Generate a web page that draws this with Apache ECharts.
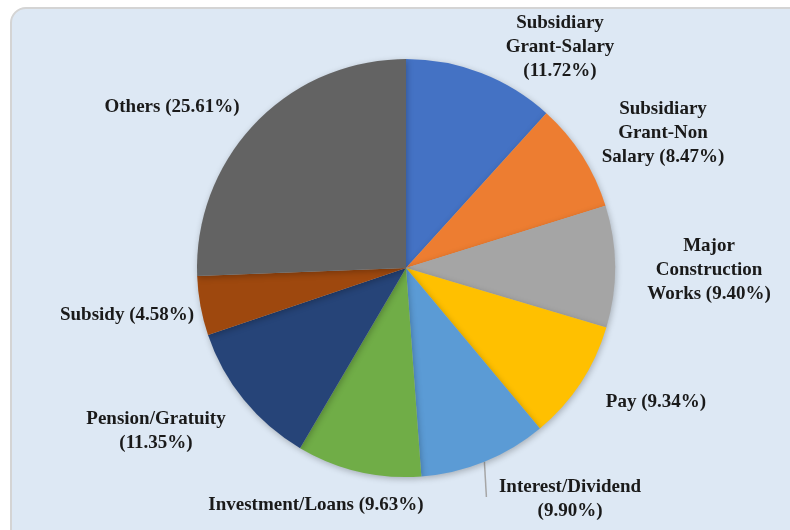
<!DOCTYPE html>
<html>
<head>
<meta charset="utf-8">
<script src="https://cdn.jsdelivr.net/npm/echarts@6/dist/echarts.min.js"></script>
<style>
  html, body { margin: 0; padding: 0; background: #ffffff; width: 790px; height: 530px; overflow: hidden; }
  #panel { position: absolute; left: 10px; top: 7px; width: 800px; height: 540px; background: #dde8f4; border: 2px solid #d4d4d4; border-radius: 16px; box-sizing: border-box; }
  #chart { position: absolute; left: 0; top: 0; width: 790px; height: 530px; }
</style>
</head>
<body>
<div id="panel"></div>
<div id="chart"></div>
<script>
const categories = [
  'Subsidiary\nGrant-Salary',
  'Subsidiary\nGrant-Non\nSalary',
  'Major\nConstruction\nWorks',
  'Pay',
  'Interest/Dividend',
  'Investment/Loans',
  'Pension/Gratuity',
  'Subsidy',
  'Others'
];
const values = [11.72, 8.47, 9.40, 9.34, 9.90, 9.63, 11.35, 4.58, 25.61];
// whether the percentage goes on its own line
const pctOnNewLine = [true, false, false, false, true, false, true, false, false];
const colors = ['#4472C4', '#ED7D31', '#A5A5A5', '#FFC000', '#5B9BD5', '#70AD47', '#264478', '#9E480E', '#636363'];
// label centre positions (layout only)
const labelPos = [
  [560, 47], [663, 133], [709, 270], [656, 402], [570, 499],
  [316, 505], [156, 431], [127, 315], [172, 107]
];
const showLine = [false, false, false, false, true, false, false, false, false];
const lineEndY = 497;

const data = categories.map((c, i) => ({
  name: c,
  value: values[i],
  itemStyle: { color: colors[i] },
  labelLine: { show: showLine[i], lineStyle: { color: '#a6a6a6', width: 1.5 }, length: 10, length2: 0 }
}));

const chart = echarts.init(document.getElementById('chart'), null, { renderer: 'canvas' });
chart.setOption({
  backgroundColor: 'transparent',
  animation: false,
  series: [{
    type: 'pie',
    center: [406, 268],
    radius: 209,
    startAngle: 90,
    clockwise: true,
    data: data,
    itemStyle: { shadowBlur: 6, shadowColor: 'rgba(0,0,0,0.25)', shadowOffsetX: 1, shadowOffsetY: 2 },
    label: {
      show: true,
      position: 'outside',
      formatter: p => p.name + (pctOnNewLine[p.dataIndex] ? '\n' : ' ') + '(' + p.value.toFixed(2) + '%)',
      fontFamily: '"Liberation Serif", "Times New Roman", serif',
      fontWeight: 'bold',
      fontSize: 19,
      lineHeight: 24,
      color: '#1a1a1a',
      align: 'center'
    },
    labelLayout: function (params) {
      const i = params.dataIndex;
      const out = {
        x: labelPos[i][0],
        y: labelPos[i][1],
        align: 'center',
        verticalAlign: 'middle'
      };
      if (showLine[i] && params.labelLinePoints) {
        const p0 = params.labelLinePoints[0];
        out.labelLinePoints = [[p0[0], p0[1]], [p0[0] + 2, lineEndY]];
      }
      return out;
    },
    emphasis: { disabled: true }
  }]
});
</script>
</body>
</html>
